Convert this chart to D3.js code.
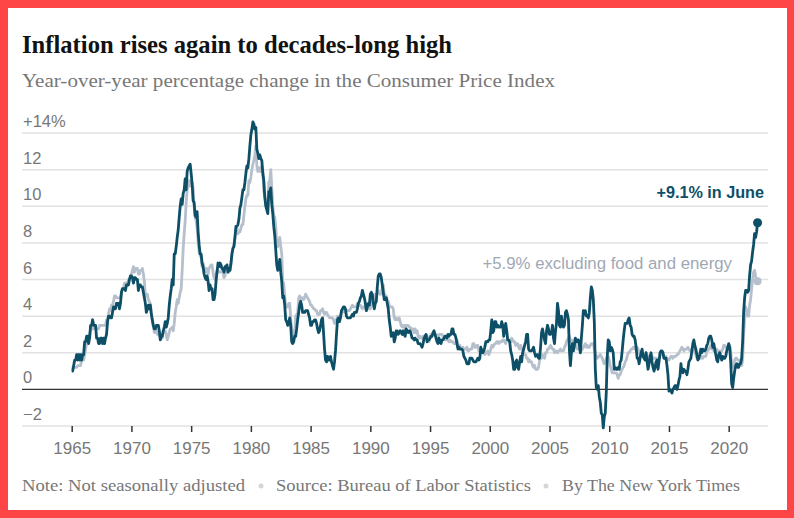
<!DOCTYPE html>
<html>
<head>
<meta charset="utf-8">
<script src="https://cdn.jsdelivr.net/npm/d3@7"></script>
<style>
  body { margin: 0; background: #ff4646; }
  svg { display: block; }
</style>
</head>
<body>
<svg id="chart" width="794" height="518"></svg>
<script>
// monthly year-over-year % change, Jan 1965 .. Jun 2022 (one row per year)
const startYear = 1965;
const headline = [
  1.0,1.0,1.3,1.6,1.6,1.9,1.6,1.9,1.6,1.9,1.6,1.9,
  1.9,2.6,2.6,2.9,2.9,2.5,2.8,3.5,3.5,3.8,3.5,3.5,
  3.5,2.8,2.8,2.5,2.5,2.8,2.8,2.5,2.8,2.5,2.8,3.0,
  3.7,4.0,4.0,3.9,3.9,4.2,4.5,4.4,4.4,4.7,4.7,4.7,
  4.4,4.7,5.3,5.5,5.5,5.5,5.4,5.7,5.7,5.7,6.0,6.2,
  6.2,6.1,5.8,6.1,6.1,6.0,6.0,5.4,5.7,5.7,5.6,5.6,
  5.3,5.0,4.7,4.2,4.4,4.6,4.4,4.6,4.1,3.8,3.5,3.3,
  3.3,3.5,3.5,3.5,3.2,2.7,2.9,2.9,3.2,3.4,3.7,3.4,
  3.6,3.9,4.6,5.1,5.5,6.0,5.7,7.4,7.4,7.8,8.3,8.7,
  9.4,10.0,10.4,10.1,10.7,10.9,11.5,10.9,11.9,12.1,12.2,12.3,
  11.8,11.2,10.3,10.2,9.5,9.4,9.7,8.6,7.9,7.4,7.4,6.9,
  6.7,6.3,6.1,6.0,6.2,5.9,5.4,5.7,5.5,5.5,4.9,4.9,
  5.2,5.9,6.4,6.9,6.7,6.9,6.8,6.6,6.6,6.4,6.7,6.7,
  6.8,6.4,6.6,6.5,6.9,7.4,7.7,7.8,8.3,8.9,8.9,9.0,
  9.3,9.9,10.1,10.5,10.9,10.9,11.3,11.8,12.2,12.1,12.6,13.3,
  13.9,14.2,14.6,14.5,14.2,14.3,13.1,12.9,12.6,12.8,12.6,12.5,
  11.8,11.4,10.5,10.0,9.8,9.6,10.8,10.8,11.0,10.1,9.6,8.9,
  8.4,7.6,6.8,6.5,6.7,7.1,6.4,5.9,5.0,5.1,4.6,3.8,
  3.7,3.5,3.6,3.9,3.5,2.6,2.5,2.6,2.9,2.9,3.3,3.8,
  4.2,4.6,4.8,4.6,4.2,4.2,4.2,4.3,4.3,4.3,4.1,3.9,
  3.5,3.5,3.7,3.7,3.8,3.8,3.6,3.3,3.1,3.2,3.5,3.8,
  3.9,3.1,2.2,1.6,1.5,1.8,1.6,1.6,1.8,1.5,1.3,1.1,
  1.5,2.1,3.0,3.8,3.9,3.7,3.9,4.3,4.4,4.5,4.5,4.4,
  4.0,3.9,3.9,3.9,3.9,4.0,4.1,4.0,4.2,4.2,4.2,4.4,
  4.7,4.8,5.0,5.1,5.4,5.2,5.0,4.7,4.3,4.5,4.7,4.6,
  5.2,5.3,5.2,4.7,4.4,4.7,4.8,5.6,6.2,6.3,6.3,6.1,
  5.7,5.3,4.9,4.9,5.0,4.7,4.4,3.8,3.4,2.9,3.0,3.1,
  2.6,2.8,3.2,3.2,3.0,3.1,3.2,3.1,3.0,3.2,3.0,2.9,
  3.3,3.2,3.1,3.2,3.2,3.0,2.8,2.8,2.7,2.8,2.7,2.7,
  2.5,2.5,2.5,2.4,2.3,2.5,2.8,2.9,3.0,2.6,2.7,2.7,
  2.8,2.9,2.9,3.1,3.2,3.0,2.8,2.6,2.5,2.8,2.6,2.5,
  2.7,2.7,2.8,2.9,2.9,2.8,3.0,2.9,3.0,3.0,3.3,3.3,
  3.0,3.0,2.8,2.5,2.2,2.3,2.2,2.2,2.2,2.1,1.8,1.7,
  1.6,1.4,1.4,1.4,1.7,1.7,1.7,1.6,1.5,1.5,1.5,1.6,
  1.7,1.6,1.7,2.3,2.1,2.0,2.1,2.3,2.6,2.6,2.6,2.7,
  2.7,3.2,3.8,3.1,3.2,3.7,3.7,3.4,3.5,3.4,3.4,3.4,
  3.7,3.5,2.9,3.3,3.6,3.2,2.7,2.7,2.6,2.1,1.9,1.6,
  1.1,1.1,1.5,1.6,1.2,1.1,1.5,1.8,1.5,2.0,2.2,2.4,
  2.6,3.0,3.0,2.2,2.1,2.1,2.1,2.2,2.3,2.0,1.8,1.9,
  1.9,1.7,1.7,2.3,3.1,3.3,3.0,2.7,2.5,3.2,3.5,3.3,
  3.0,3.0,3.1,3.5,2.8,2.5,3.2,3.6,4.7,4.3,3.5,3.4,
  4.0,3.6,3.4,3.5,4.2,4.3,4.1,3.8,2.1,1.3,2.0,2.5,
  2.1,2.4,2.8,2.6,2.7,2.7,2.4,2.0,2.8,3.5,4.3,4.1,
  4.3,4.0,4.0,3.9,4.2,5.0,5.6,5.4,4.9,3.7,1.1,0.1,
  0.0,0.2,-0.4,-0.7,-1.3,-1.4,-2.1,-1.5,-1.3,-0.2,1.8,2.7,
  2.6,2.1,2.3,2.2,2.0,1.1,1.2,1.1,1.1,1.2,1.1,1.5,
  1.6,2.1,2.7,3.2,3.6,3.6,3.6,3.8,3.9,3.5,3.4,3.0,
  2.9,2.9,2.7,2.3,1.7,1.7,1.4,1.7,2.0,2.2,1.8,1.7,
  1.6,2.0,1.5,1.1,1.4,1.8,2.0,1.5,1.2,1.0,1.2,1.5,
  1.6,1.1,1.5,2.0,2.1,2.1,2.0,1.7,1.7,1.7,1.3,0.8,
  -0.1,0.0,-0.1,-0.2,0.0,0.1,0.2,0.2,0.0,0.2,0.5,0.7,
  1.4,1.0,0.9,1.1,1.0,1.0,0.8,1.1,1.5,1.6,1.7,2.1,
  2.5,2.7,2.4,2.2,1.9,1.6,1.7,1.9,2.2,2.0,2.2,2.1,
  2.1,2.2,2.4,2.5,2.8,2.9,2.9,2.7,2.3,2.5,2.2,1.9,
  1.6,1.5,1.9,2.0,1.8,1.6,1.8,1.7,1.7,1.8,2.1,2.3,
  2.5,2.3,1.5,0.3,0.1,0.6,1.0,1.3,1.4,1.2,1.2,1.4,
  1.4,1.7,2.6,4.2,5.0,5.4,5.4,5.3,5.4,6.2,6.8,7.0,
  7.5,7.9,8.5,8.3,8.6,9.1
];
const core = [
  1.2,1.2,1.2,1.2,1.2,1.2,1.3,1.3,1.3,1.3,1.6,1.6,
  1.6,1.9,2.2,2.5,2.5,2.8,3.0,3.3,3.3,3.3,3.6,3.3,
  3.3,3.3,3.3,3.3,3.5,3.5,3.5,3.5,3.5,3.5,3.5,3.8,
  3.8,4.1,4.4,4.3,4.6,4.6,4.8,5.1,5.1,5.0,5.0,5.0,
  5.0,5.0,5.3,5.5,5.5,5.8,5.8,5.8,5.8,6.0,6.0,6.1,
  6.3,6.5,6.7,6.4,6.6,6.6,6.6,6.3,6.3,6.5,6.5,6.6,
  6.3,5.9,5.1,5.1,5.2,4.9,4.8,4.7,4.2,3.7,3.4,3.1,
  3.3,3.2,3.0,3.0,3.0,2.8,2.9,2.8,3.2,3.2,3.2,3.0,
  2.7,2.9,3.1,3.3,3.3,3.4,3.2,3.6,4.2,4.5,4.9,4.7,
  5.0,5.3,5.5,6.5,7.7,8.5,9.2,10.2,10.9,11.2,11.4,11.1,
  11.3,11.3,11.0,10.0,9.4,9.2,8.8,8.1,7.5,7.3,7.2,6.7,
  6.9,6.6,6.6,6.4,6.6,6.3,6.6,6.7,6.8,6.8,6.4,6.1,
  6.0,6.3,6.5,6.5,6.4,6.4,6.4,6.5,6.4,6.1,6.2,6.5,
  6.4,6.4,6.4,6.5,6.8,7.4,7.7,7.9,8.3,8.7,8.8,8.5,
  8.6,8.6,8.8,9.0,9.0,9.5,10.0,10.4,10.6,10.6,11.4,11.3,
  11.6,12.0,12.3,12.5,12.8,13.3,12.2,11.9,12.1,11.9,12.1,12.2,
  11.9,10.8,10.5,10.1,10.2,10.1,11.3,11.4,12.0,11.0,10.0,9.5,
  9.4,8.9,8.0,7.8,8.0,8.3,7.8,7.4,5.9,5.8,5.1,4.5,
  4.6,4.5,4.7,4.7,3.9,3.3,3.2,2.9,2.9,4.0,4.1,4.1,
  5.0,5.1,5.0,4.9,5.0,4.9,5.0,5.2,5.1,5.0,4.9,4.8,
  4.6,4.6,4.5,4.4,4.4,4.3,4.3,4.1,4.1,4.1,4.3,4.3,
  4.4,4.2,4.1,4.2,4.2,4.1,4.0,3.9,3.9,3.9,3.9,3.8,
  3.6,3.8,3.8,4.0,4.0,4.0,4.0,4.2,4.3,4.3,4.2,4.2,
  4.3,4.3,4.3,4.3,4.4,4.5,4.6,4.5,4.5,4.5,4.5,4.7,
  4.6,4.6,4.6,4.5,4.4,4.5,4.5,4.5,4.3,4.4,4.5,4.4,
  4.4,4.6,5.0,5.0,4.9,5.2,5.2,5.3,5.4,5.2,5.2,5.2,
  5.6,5.7,5.2,5.1,5.1,4.9,4.8,4.6,4.5,4.5,4.5,4.4,
  3.9,3.8,3.9,3.8,3.8,3.9,3.7,3.5,3.4,3.5,3.5,3.3,
  3.5,3.5,3.5,3.4,3.4,3.3,3.3,3.3,3.1,3.3,3.1,3.2,
  2.9,2.8,2.9,2.8,2.8,2.9,2.9,2.9,3.0,2.9,2.8,2.6,
  2.9,3.0,3.0,3.1,3.1,3.0,3.0,2.9,2.9,3.0,3.0,3.0,
  3.0,2.9,2.8,2.7,2.7,2.7,2.7,2.6,2.7,2.6,2.6,2.6,
  2.5,2.5,2.5,2.7,2.5,2.4,2.4,2.2,2.2,2.3,2.2,2.2,
  2.2,2.3,2.1,2.1,2.2,2.2,2.2,2.5,2.5,2.3,2.3,2.4,
  2.4,2.1,2.1,2.2,2.0,2.1,2.1,1.9,2.0,2.0,2.1,1.9,
  2.0,2.2,2.4,2.3,2.4,2.5,2.5,2.6,2.6,2.5,2.6,2.6,
  2.6,2.7,2.7,2.6,2.5,2.7,2.7,2.7,2.6,2.6,2.8,2.7,
  2.6,2.6,2.4,2.5,2.5,2.3,2.2,2.4,2.2,2.2,2.0,1.9,
  1.9,1.7,1.7,1.5,1.6,1.5,1.5,1.3,1.2,1.3,1.1,1.1,
  1.1,1.2,1.6,1.8,1.7,1.9,1.8,1.7,2.0,2.0,2.2,2.2,
  2.3,2.4,2.3,2.2,2.2,2.0,2.1,2.1,2.0,2.1,2.1,2.2,
  2.1,2.1,2.1,2.3,2.4,2.6,2.7,2.8,2.9,2.7,2.6,2.6,
  2.7,2.7,2.5,2.3,2.2,2.2,2.2,2.1,2.1,2.2,2.3,2.4,
  2.5,2.3,2.4,2.3,2.3,2.4,2.5,2.5,2.5,2.2,2.0,1.8,
  1.7,1.8,1.8,1.9,1.8,1.7,1.5,1.4,1.5,1.7,1.7,1.8,
  1.6,1.3,1.1,0.9,0.9,0.9,0.9,0.9,0.8,0.6,0.8,0.8,
  1.0,1.1,1.2,1.3,1.5,1.6,1.8,2.0,2.0,2.1,2.2,2.2,
  2.3,2.2,2.3,2.3,2.3,2.2,2.1,1.9,2.0,2.0,1.9,1.9,
  1.9,2.0,1.9,1.7,1.7,1.6,1.7,1.8,1.7,1.7,1.7,1.7,
  1.6,1.6,1.7,1.8,2.0,1.9,1.9,1.7,1.7,1.8,1.7,1.6,
  1.6,1.7,1.8,1.8,1.7,1.8,1.8,1.8,1.9,1.9,2.0,2.1,
  2.2,2.3,2.2,2.1,2.2,2.2,2.2,2.3,2.2,2.1,2.1,2.2,
  2.3,2.2,2.0,1.9,1.7,1.7,1.7,1.7,1.7,1.8,1.7,1.8,
  1.8,1.8,2.1,2.1,2.2,2.3,2.4,2.2,2.2,2.1,2.2,2.2,
  2.2,2.1,2.0,2.1,2.0,2.1,2.2,2.4,2.4,2.3,2.3,2.3,
  2.3,2.4,2.1,1.4,1.2,1.2,1.6,1.7,1.7,1.6,1.6,1.6,
  1.4,1.3,1.6,3.0,3.8,4.5,4.3,4.0,4.0,4.6,4.9,5.5,
  6.0,6.4,6.5,6.2,6.0,5.9
];
const yTicks = [-2, 0, 2, 4, 6, 8, 10, 12, 14];
const xTicks = [1965, 1970, 1975, 1980, 1985, 1990, 1995, 2000, 2005, 2010, 2015, 2020];
const title = "Inflation rises again to decades-long high";
const subtitle = "Year-over-year percentage change in the Consumer Price Index";
const notes = ["Note: Not seasonally adjusted", "Source: Bureau of Labor Statistics", "By The New York Times"];
const headlineLabel = "+9.1% in June";
const coreLabel = "+5.9% excluding food and energy";

const darkBlue = "#0d4f67";
const lightBlue = "#b6bfcc";
const grey = "#777";
const sans = "'Liberation Sans', Arial, sans-serif";
const serif = "'Liberation Serif', Georgia, serif";

const svg = d3.select("#chart");

// white card inside the red frame
svg.append("rect").attr("x", 8).attr("y", 8).attr("width", 779).attr("height", 502).attr("fill", "#fff");

const x = d3.scaleLinear().domain([1960.84, 2023.29]).range([22, 768]);
const y = d3.scaleLinear().domain([-2, 14]).range([426, 133]);

const toPoints = arr => arr.map((v, i) => ({ t: startYear + i / 12, v }));
const headPts = toPoints(headline);
const corePts = toPoints(core);

// title block
svg.append("text").attr("x", 22).attr("y", 53)
  .attr("font-family", serif).attr("font-weight", "bold").attr("font-size", 25)
  .attr("fill", "#121212")
  .attr("textLength", 430).attr("lengthAdjust", "spacingAndGlyphs")
  .text(title);

svg.append("text").attr("x", 22).attr("y", 87)
  .attr("font-family", serif).attr("font-size", 18.5)
  .attr("fill", grey)
  .attr("textLength", 533).attr("lengthAdjust", "spacingAndGlyphs")
  .text(subtitle);

// grid + y labels
const grid = svg.append("g");
grid.selectAll("line").data(yTicks.filter(d => d !== 0)).enter().append("line")
  .attr("x1", 22).attr("x2", 768)
  .attr("y1", d => y(d)).attr("y2", d => y(d))
  .attr("stroke", "#e2e2e2").attr("stroke-width", 1.5);

grid.selectAll("text").data(yTicks).enter().append("text")
  .attr("x", 23).attr("y", d => y(d) - 6)
  .attr("font-family", sans).attr("font-size", 16.5).attr("fill", grey)
  .text(d => d === 14 ? "+14%" : d < 0 ? "\u2212" + Math.abs(d) : d);

// x axis ticks
const xAxis = svg.append("g").attr("transform", `translate(0,${y(-2)})`)
  .call(d3.axisBottom(x).tickValues(xTicks).tickSize(6).tickPadding(10).tickFormat(d3.format("d")));
xAxis.select(".domain").remove();
xAxis.selectAll(".tick line").attr("stroke", "#333").attr("stroke-width", 1.5);
xAxis.selectAll(".tick text").attr("font-family", sans).attr("font-size", 17).attr("fill", grey);

// lines
const line = d3.line().x(d => x(d.t)).y(d => y(d.v));

svg.append("path").datum(corePts)
  .attr("d", line).attr("fill", "none")
  .attr("stroke", lightBlue).attr("stroke-width", 2.8).attr("stroke-linejoin", "round");

// zero baseline
svg.append("line").attr("x1", 22).attr("x2", 768).attr("y1", y(0)).attr("y2", y(0))
  .attr("stroke", "#333").attr("stroke-width", 1.3);

svg.append("path").datum(headPts)
  .attr("d", line).attr("fill", "none")
  .attr("stroke", darkBlue).attr("stroke-width", 2.8).attr("stroke-linejoin", "round");

// end points + labels
const lastCore = corePts[corePts.length - 1];
const lastHead = headPts[headPts.length - 1];
svg.append("circle").attr("cx", x(lastCore.t)).attr("cy", y(lastCore.v)).attr("r", 4).attr("fill", lightBlue);
svg.append("circle").attr("cx", x(lastHead.t)).attr("cy", y(lastHead.v)).attr("r", 4.5).attr("fill", darkBlue);

svg.append("text").attr("x", 764).attr("y", 198).attr("text-anchor", "end")
  .attr("font-family", sans).attr("font-weight", "bold").attr("font-size", 16.2).attr("fill", darkBlue)
  .text(headlineLabel);

svg.append("text").attr("x", 732).attr("y", 269).attr("text-anchor", "end")
  .attr("font-family", sans).attr("font-size", 16.8).attr("fill", "#a0a8b5")
  .text(coreLabel);

// footer
const footX = [22, 276, 562];
const footW = [223, 255, 178];
svg.selectAll(".foot").data(notes).enter().append("text").attr("class", "foot")
  .attr("x", (d, i) => footX[i]).attr("y", 491)
  .attr("font-family", serif).attr("font-size", 16.5).attr("fill", grey)
  .attr("textLength", (d, i) => footW[i]).attr("lengthAdjust", "spacingAndGlyphs")
  .text(d => d);
svg.selectAll(".dot").data([261, 546]).enter().append("circle").attr("class", "dot")
  .attr("cx", d => d).attr("cy", 486).attr("r", 2.5).attr("fill", "#d6d6d6");
</script>
</body>
</html>
